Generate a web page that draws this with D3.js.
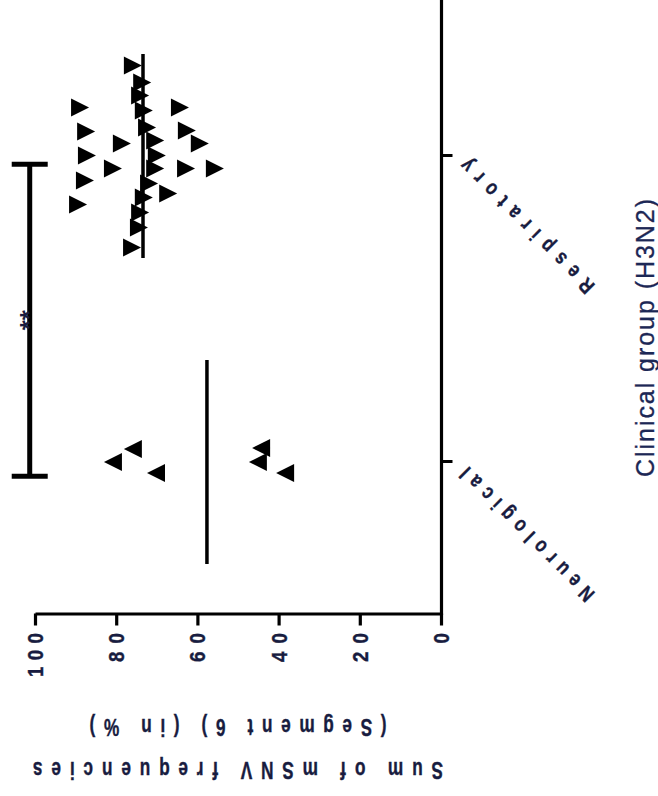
<!DOCTYPE html>
<html><head><meta charset="utf-8">
<script src="https://cdn.jsdelivr.net/npm/d3@7"></script>
<style>body{margin:0;background:#fff}svg{display:block}</style>
</head><body><svg id="chart" width="658" height="796"></svg>
<script>
// ---------- data ----------
const categories = ["Neurological", "Respiratory"];
const neuroValues = [75.9, 80.8, 70.2, 44.3, 45.1, 38.4];
const neuroJitter = [-0.12, 0.01, 0.12, -0.13, 0.01, 0.12];
const respValues = [75.9, 88.9, 87.4, 87.2, 87.7, 89.4, 78.6, 80.8, 76.1, 64.3, 62.6, 59.4, 62.8, 55.7, 67.2,
                    73.6, 74.1, 73.2, 72.4, 70.4, 70.0, 70.4, 71.9, 73.2, 74.1, 74.4];
const respJitter = [-0.895, -0.475, -0.235, 0.005, 0.255, 0.495, -0.115, 0.135, 0.925, -0.475, -0.245, -0.115, 0.135, 0.135, 0.385,
                    -0.725, -0.595, -0.445, -0.275, -0.145, 0.005, 0.135, 0.285, 0.425, 0.575, 0.725];
const valueTicks = [0, 20, 40, 60, 80, 100];
const valueTickLabels = ["0", "20", "40", "60", "80", "100"];
const valueTitleLines = ["Sum of mSNV frequencies", "(Segment 6) (in %)"];
const groupTitle = "Clinical group (H3N2)";
const sigBracket = {from: -0.05, to: 0.97, value: 101.3, label: "**"};

// ---------- layout ----------
const svg = d3.select("#chart");
const ink = "#000";
const textCol = "#181c40";
const font = "'Liberation Sans', Arial, sans-serif";
const axisY = 613.5, axisX = 441.5;

const x = d3.scaleLinear().domain([0, 100]).range([441, 35]);
const y = d3.scalePoint().domain(categories).range([614, 2]).padding(0.5);
const yIdx = d3.scaleLinear().domain([0, 1]).range([y(categories[0]), y(categories[1])]);
const jit = d3.scaleLinear().domain([-1, 1]).range([-100, 100]);

// value axis (bottom)
const gx = svg.append("g").attr("transform", `translate(0,${axisY})`)
  .call(d3.axisBottom(x).tickValues(valueTicks).tickSize(12).tickSizeOuter(0).tickFormat(""));
gx.selectAll("path,line").attr("stroke", ink).attr("stroke-width", 3.2);

// category axis (right)
const gy = svg.append("g").attr("transform", `translate(${axisX},0)`)
  .call(d3.axisRight(y).tickSize(11).tickSizeOuter(0).tickFormat(""));
gy.select(".domain").remove();
gy.selectAll("line").attr("stroke", ink).attr("stroke-width", 3);
svg.append("line").attr("x1", axisX).attr("x2", axisX).attr("y1", 0).attr("y2", axisY + 1.5)
  .attr("stroke", ink).attr("stroke-width", 3.2);

// squished text helper
function label(txt, cx, cy, angle, opts) {
  const sx = opts.sx || 1;
  const g = svg.append("g").attr("transform", `translate(${cx},${cy}) rotate(${angle}) scale(${sx},1)`);
  const t = g.append("text").attr("font-family", font).attr("font-size", opts.size)
    .attr("font-weight", opts.weight || "bold").attr("fill", opts.fill || textCol)
    .attr("text-anchor", opts.anchor || "middle").attr("dy", "0.36em").text(txt);
  if (opts.stroke) t.attr("stroke", opts.fill || textCol).attr("stroke-width", opts.stroke);
  if (opts.len && txt.length > 1) t.attr("textLength", opts.len / sx).attr("lengthAdjust", "spacing");
  return t;
}

// tick labels
valueTicks.forEach((v, i) => {
  const s = valueTickLabels[i];
  label(s, x(v), 633, -90, {size: 22, sx: 0.85, anchor: "end", len: s.length * 15 - 1, stroke: 0.4});
});

// value axis title (upside down)
label(valueTitleLines[0], 238, 771, 180, {size: 24, sx: 0.72, len: 410, stroke: 0.4});
label(valueTitleLines[1], 238, 728, 180, {size: 24, sx: 0.72, len: 297, stroke: 0.4});

// category labels
label(categories[1], 463, 163, -135, {size: 21, sx: 0.8, anchor: "end", len: 180, stroke: 0.4});
label(categories[0], 463, 471, -135, {size: 21, sx: 0.8, anchor: "end", len: 180, stroke: 0.4});

// group title
label(groupTitle, 645, 338, -90, {size: 25, weight: "normal", fill: "#1c2755", len: 278, stroke: 0.3});

// triangle marker
const tri = "M9,0L-9,-9L-9,9Z";

// points and median lines
const groups = [
  {cat: categories[0], values: neuroValues, jitter: neuroJitter, dir: 180},
  {cat: categories[1], values: respValues, jitter: respJitter, dir: 0}
];
groups.forEach(gp => {
  svg.append("g").selectAll("path").data(gp.values).join("path")
    .attr("d", tri)
    .attr("transform", (d, i) => `translate(${x(d)},${y(gp.cat) + jit(gp.jitter[i])}) rotate(${gp.dir})`)
    .attr("fill", ink);
  const m = d3.median(gp.values);
  svg.append("line").attr("x1", x(m)).attr("x2", x(m))
    .attr("y1", y(gp.cat) + jit(-1.01)).attr("y2", y(gp.cat) + jit(1.03))
    .attr("stroke", ink).attr("stroke-width", 3.5);
});

// significance bracket
const bx = x(sigBracket.value);
const b1 = yIdx(sigBracket.to), b2 = yIdx(sigBracket.from);
const gb = svg.append("g").attr("stroke", ink).attr("stroke-width", 5);
gb.append("line").attr("x1", bx).attr("x2", bx).attr("y1", b1).attr("y2", b2);
gb.append("line").attr("x1", bx - 18).attr("x2", bx + 18).attr("y1", b1).attr("y2", b1);
gb.append("line").attr("x1", bx - 18).attr("x2", bx + 18).attr("y1", b2).attr("y2", b2);
svg.append("text").attr("transform", `translate(${bx + 8},${(b1 + b2) / 2}) rotate(-90)`)
  .attr("font-family", font).attr("font-size", 26).attr("font-weight", "bold").attr("fill", textCol)
  .attr("text-anchor", "middle").text(sigBracket.label);
</script></body></html>
